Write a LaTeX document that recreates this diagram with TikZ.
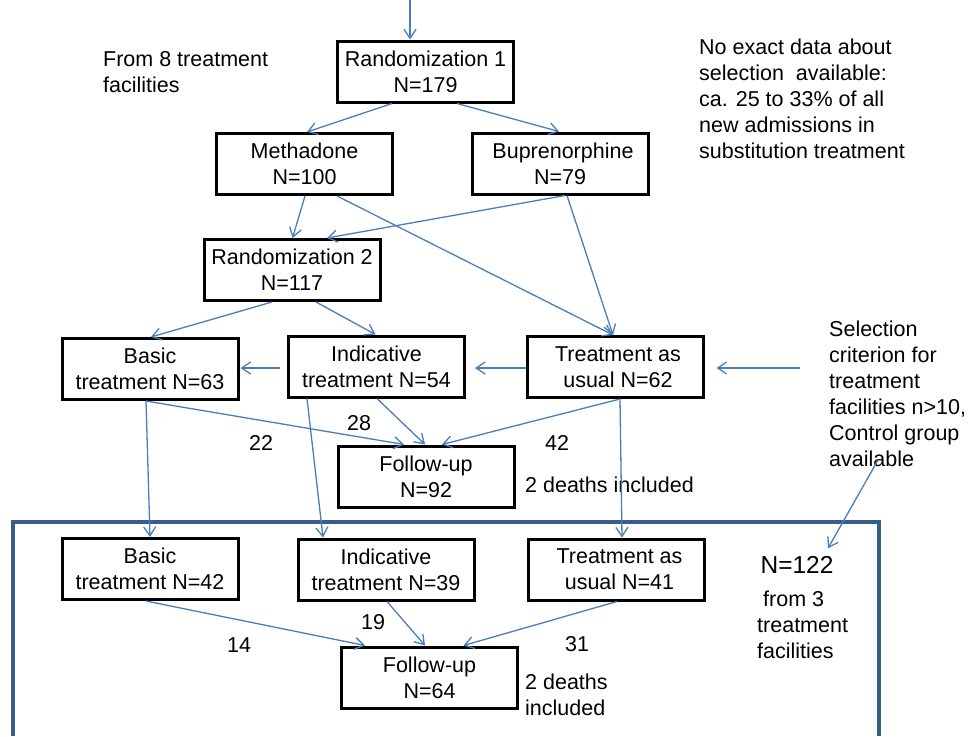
\documentclass[tikz,border=0pt]{standalone}
\usepackage{fontspec}
\setmainfont{Liberation Sans}
\usetikzlibrary{arrows.meta,calc}
\definecolor{linkblue}{HTML}{4A7EBB}
\definecolor{frameblue}{HTML}{385D8A}

\begin{document}
\begin{tikzpicture}[x=1pt,y=-1pt,
  box/.style={draw,line width=3pt,minimum width=176pt,minimum height=61pt,inner sep=0pt,align=center,font=\fontsize{21.5}{26}\selectfont},
  conn/.style={draw=linkblue,line width=1.3pt,-{Straight Barb[length=9pt,width=12pt]}},
  note/.style={inner sep=0pt,align=left,anchor=north west,font=\fontsize{21.5}{26}\selectfont},
  num/.style={inner sep=0pt,font=\fontsize{21.5}{26}\selectfont}]
\useasboundingbox (0,0) rectangle (968,736);
% frame round the second site group
\draw[frameblue,line width=3.2pt] (13,736) -- (13,522) -- (879,522) -- (879,736);

% boxes
\node[box] (rone) at (425.5,71.5) {Randomization 1\\N=179};
\node[box] (meth) at (304.5,164) {Methadone\\N=100};
\node[box] (bup)  at (560,163.5) {\ Buprenorphine\\N=79};
\node[box] (rtwo) at (292,270) {Randomization 2\\N=117};
\node[box] (basa) at (150,369) {Basic\\treatment N=63};
\node[box] (inda) at (376.5,366.5) {Indicative\\treatment N=54};
\node[box] (taua) at (615,367) {\ Treatment as\\\ usual N=62};
\node[box] (fua)  at (426,476.5) {Follow-up\\N=92};
\node[box] (basb) at (150,569) {Basic\\treatment N=42};
\node[box] (indb) at (386,569.5) {Indicative\\treatment N=39};
\node[box] (taub) at (616.5,569.5) {\ Treatment as\\\ usual N=41};
\node[box] (fub)  at (429.5,677.5) {Follow-up\\N=64};

% notes
\node[note] (origin) at (103,51) {From 8 treatment\\facilities};
\node[note] (nodata) at (699,39) {No exact data about\\selection\ \ available:\\ca. 25 to 33\% of all\\new admissions in\\substitution treatment};
\node[note] (sel) at (829,321) {Selection\\criterion for\\treatment\\facilities n>10,\\Control group\\available};
\node[note] (deatha) at (525,477) {2 deaths included};
\node[note] (deathb) at (525,674) {2 deaths\\included};
\node[inner sep=0pt,font=\fontsize{24.5}{30}\selectfont] (ntot) at (797,565) {N=122};
\node[note] (fromthree) at (757,591) {\ from 3\\treatment\\facilities};

% counts
\node[num] (ctwentyeight) at (359,423) {28};
\node[num] (ctwentytwo) at (261,443) {22};
\node[num] (cfortytwo) at (557,443) {42};
\node[num] (cfourteen) at (239,645) {14};
\node[num] (cnineteen) at (373,622) {19};
\node[num] (cthirtyone) at (577,644) {31};

\coordinate (entry) at (410,0);
\coordinate (selmid) at (800,368);
\coordinate (selfoot) at (878,460);

% connectors
\draw[conn] (entry) -- ($(rone.north)+(-15.5,0)$);
\draw[conn] ($(rone.south)+(-33.5,0)$) -- ($(meth.north)+(2.5,0)$);
\draw[conn] ($(rone.south)+(31.5,0)$) -- ($(bup.north)+(-1,0)$);
\draw[conn] ($(meth.south)+(0.5,0)$) -- ($(rtwo.north)+(0.5,0)$);
\draw[conn] ($(bup.south)+(5,0)$) -- ($(rtwo.north)+(35,0)$);
\draw[conn] ($(meth.south)+(32.5,0)$) -- ($(taua.north)+(-2,0)$);
\draw[conn] ($(bup.south)+(7,0)$) -- ($(taua.north)+(-2,0)$);
\draw[conn] ($(rtwo.south)+(-20,0)$) -- ($(basa.north)+(1,0)$);
\draw[conn] ($(rtwo.south)+(24,0)$) -- ($(inda.north)+(-1,0)$);
\draw[conn] ($(inda.west)+(-7,1.5)$) -- ($(basa.east)+(1,-1)$);
\draw[conn] ($(taua.west)+(0,1)$) -- ($(inda.east)+(9,1.5)$);
\draw[conn] (selmid) -- ($(taua.east)+(12,1)$);
\draw[conn] ($(basa.south)+(-4,0)$) -- ($(fua.north)+(-22,0)$);
\draw[conn] ($(inda.south)+(0.5,0)$) -- ($(fua.north)+(-1,0)$);
\draw[conn] ($(taua.south)+(5,0)$) -- ($(fua.north)+(16,0)$);
\draw[conn] ($(basa.south)+(-4,0)$) -- (basb.north);
\draw[conn] ($(inda.south)+(-69.5,0)$) -- ($(indb.north)+(-63,0)$);
\draw[conn] ($(taua.south)+(5,0)$) -- ($(taub.north)+(5.5,0)$);
\draw[conn] (selfoot) -- ($(ntot.north)+(31,-8)$);
\draw[conn] ($(basb.south)+(-4,0)$) -- ($(fub.north)+(-64.5,0)$);
\draw[conn] ($(indb.south)+(1,0)$) -- ($(fub.north)+(-4.5,0)$);
\draw[conn] ($(taub.south)+(0.5,0)$) -- ($(fub.north)+(34,0)$);
\end{tikzpicture}
\end{document}
